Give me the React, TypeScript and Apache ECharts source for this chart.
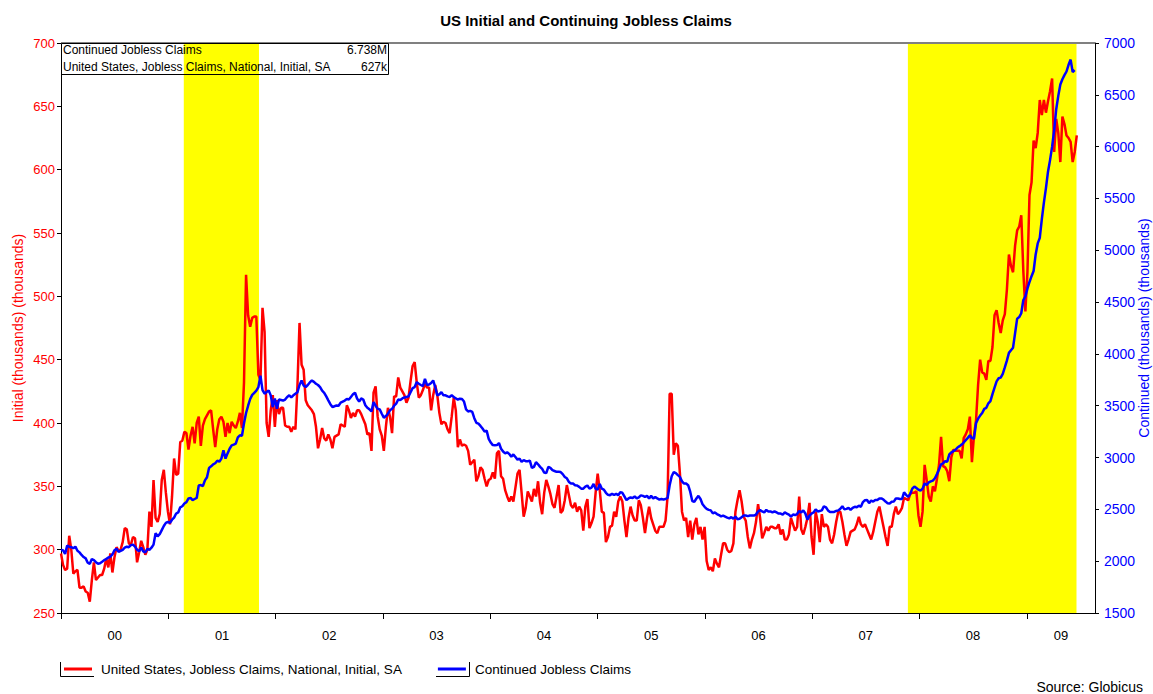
import React, { useEffect, useRef } from 'react';
import * as echarts from 'echarts';

// ---------- data ----------
const WEEK = 7 * 86400000;
const START = Date.UTC(2000, 0, 1); // first weekly observation (Saturday)
const AXIS_MAX = Date.UTC(2009, 7, 21);
const years = [2000, 2001, 2002, 2003, 2004, 2005, 2006, 2007, 2008, 2009];
const yearLabels = ['00', '01', '02', '03', '04', '05', '06', '07', '08', '09'];
const recessions = [
  ['2001-02-22', '2001-11-05'],
  ['2007-11-23', '2009-06-19'],
];
const initialName = 'United States, Jobless Claims, National, Initial, SA';
const continuedName = 'Continued Jobless Claims';

// Initial claims (thousands), weekly
const initial2000 = [297, 288, 284, 285, 311, 300, 281, 283, 284, 270, 270, 271, 267, 266, 259, 276, 290, 276, 278, 280, 280, 285, 293, 286, 297, 282, 294, 302, 299, 300, 306, 317, 316, 305, 304, 310, 309, 290, 298, 307, 302, 296, 300, 330, 318, 355, 325, 322, 328, 355, 363, 345, 330];
const initial2001 = [320, 342, 372, 359, 360, 385, 386, 393, 392, 379, 390, 397, 384, 400, 405, 382, 398, 403, 406, 409, 410, 395, 381, 395, 403, 405, 401, 389, 400, 392, 401, 398, 396, 401, 408, 396, 432, 517, 485, 476, 483, 484, 484, 438, 434, 491, 472, 400, 389, 410, 422, 397];
const initial2002 = [418, 407, 412, 412, 398, 397, 397, 393, 397, 395, 430, 479, 446, 442, 418, 414, 412, 410, 407, 397, 380, 387, 396, 388, 386, 391, 387, 380, 389, 390, 391, 399, 398, 397, 414, 410, 404, 408, 405, 410, 410, 407, 403, 399, 391, 392, 378, 424, 429, 405, 395, 390];
const initial2003 = [378, 397, 412, 405, 392, 421, 421, 436, 428, 425, 422, 416, 420, 433, 445, 448, 432, 420, 422, 426, 431, 428, 428, 410, 422, 430, 422, 408, 399, 401, 400, 395, 392, 405, 420, 410, 381, 387, 382, 383, 382, 378, 367, 369, 371, 354, 358, 365, 363, 356, 350, 355];
const initial2004 = [356, 361, 356, 376, 378, 358, 356, 347, 342, 338, 342, 338, 349, 360, 363, 345, 326, 333, 346, 342, 338, 348, 342, 354, 337, 328, 345, 355, 350, 344, 336, 333, 342, 351, 329, 331, 339, 351, 343, 335, 333, 337, 330, 334, 331, 315, 334, 340, 317, 321, 326, 345];
const initial2005 = [360, 347, 330, 329, 306, 310, 318, 319, 330, 326, 338, 342, 338, 323, 310, 325, 334, 327, 323, 323, 339, 335, 325, 313, 325, 334, 325, 320, 315, 313, 318, 318, 318, 323, 342, 423, 423, 375, 384, 382, 360, 330, 323, 325, 310, 323, 308, 320, 325, 312, 318, 308, 318];
const initial2006 = [291, 284, 286, 283, 293, 289, 286, 296, 305, 305, 300, 298, 299, 305, 330, 339, 347, 338, 326, 323, 310, 301, 308, 313, 322, 336, 325, 309, 313, 318, 315, 318, 318, 317, 317, 320, 312, 316, 308, 308, 312, 325, 320, 315, 318, 342, 316, 312, 318, 325, 337, 310];
const initial2007 = [296, 330, 322, 306, 328, 318, 320, 318, 308, 305, 312, 322, 330, 330, 322, 312, 303, 308, 314, 315, 316, 320, 326, 320, 318, 320, 316, 312, 308, 314, 322, 330, 334, 326, 318, 310, 303, 318, 318, 328, 334, 328, 330, 333, 341, 340, 339, 344, 345, 345, 346, 327];
const initial2008 = [318, 330, 367, 355, 342, 338, 350, 346, 356, 367, 389, 366, 365, 362, 354, 373, 379, 378, 378, 378, 372, 388, 391, 395, 405, 369, 390, 402, 430, 450, 440, 439, 434, 449, 449, 460, 485, 489, 479, 471, 481, 486, 505, 533, 524, 519, 540, 552, 555, 564, 520, 488];
const initial2009 = [519, 580, 590, 623, 617, 629, 655, 643, 655, 645, 654, 662, 672, 614, 640, 629, 606, 642, 636, 627, 625, 622, 606, 614, 627];

// Continued claims (thousands), weekly
const continued2000 = [2107, 2105, 2070, 2150, 2140, 2135, 2125, 2140, 2100, 2085, 2060, 2040, 2027, 1985, 1975, 2020, 2010, 1990, 1975, 1980, 1994, 2010, 2020, 2035, 2045, 2065, 2105, 2120, 2090, 2100, 2110, 2130, 2140, 2135, 2155, 2160, 2140, 2110, 2095, 2130, 2095, 2085, 2120, 2110, 2130, 2160, 2270, 2240, 2260, 2300, 2340, 2370, 2380];
const continued2001 = [2370, 2400, 2420, 2460, 2470, 2520, 2530, 2557, 2570, 2605, 2610, 2590, 2600, 2610, 2730, 2735, 2725, 2780, 2810, 2900, 2915, 2935, 2945, 2970, 2960, 2990, 3070, 2990, 3040, 3085, 3118, 3125, 3135, 3195, 3215, 3210, 3330, 3430, 3500, 3565, 3605, 3625, 3645, 3680, 3790, 3650, 3616, 3632, 3648, 3600, 3487, 3570];
const continued2002 = [3471, 3560, 3555, 3550, 3560, 3585, 3600, 3580, 3600, 3615, 3630, 3700, 3744, 3695, 3680, 3700, 3725, 3744, 3730, 3712, 3700, 3680, 3645, 3625, 3590, 3552, 3515, 3487, 3495, 3503, 3500, 3530, 3540, 3550, 3565, 3560, 3585, 3610, 3625, 3570, 3540, 3570, 3560, 3505, 3480, 3465, 3445, 3536, 3500, 3470, 3465, 3423];
const continued2003 = [3385, 3400, 3423, 3456, 3470, 3500, 3520, 3560, 3555, 3570, 3580, 3585, 3590, 3630, 3670, 3680, 3728, 3712, 3700, 3690, 3760, 3700, 3705, 3720, 3744, 3680, 3600, 3610, 3632, 3600, 3600, 3590, 3585, 3600, 3585, 3570, 3560, 3568, 3565, 3540, 3465, 3445, 3450, 3440, 3380, 3335, 3327, 3305, 3280, 3250, 3260, 3180];
const continued2004 = [3145, 3120, 3118, 3120, 3140, 3085, 3058, 3040, 3050, 3035, 3008, 3030, 3005, 2980, 2990, 2958, 2975, 2965, 2965, 2970, 2900, 2910, 2955, 2935, 2910, 2890, 2855, 2850, 2910, 2900, 2878, 2870, 2862, 2862, 2860, 2840, 2813, 2800, 2765, 2750, 2749, 2733, 2730, 2717, 2700, 2700, 2720, 2730, 2700, 2710, 2745, 2700];
const continued2005 = [2690, 2745, 2700, 2690, 2660, 2640, 2637, 2650, 2640, 2650, 2637, 2665, 2660, 2625, 2589, 2605, 2615, 2610, 2625, 2605, 2615, 2635, 2630, 2620, 2630, 2605, 2630, 2605, 2620, 2605, 2595, 2600, 2595, 2600, 2610, 2733, 2820, 2860, 2850, 2830, 2813, 2770, 2749, 2749, 2733, 2670, 2580, 2573, 2605, 2630, 2600, 2550, 2525];
const continued2006 = [2505, 2495, 2490, 2461, 2470, 2455, 2445, 2432, 2440, 2430, 2420, 2413, 2425, 2410, 2430, 2405, 2410, 2425, 2440, 2440, 2435, 2440, 2440, 2440, 2450, 2480, 2493, 2480, 2470, 2495, 2480, 2480, 2470, 2480, 2470, 2460, 2460, 2450, 2470, 2460, 2450, 2430, 2450, 2445, 2455, 2485, 2470, 2490, 2460, 2400, 2440, 2460];
const continued2007 = [2470, 2500, 2480, 2485, 2490, 2530, 2520, 2490, 2475, 2475, 2475, 2485, 2490, 2505, 2530, 2500, 2505, 2515, 2495, 2515, 2525, 2520, 2535, 2525, 2570, 2589, 2590, 2560, 2585, 2575, 2590, 2590, 2605, 2605, 2595, 2575, 2560, 2557, 2573, 2575, 2605, 2605, 2600, 2600, 2665, 2640, 2620, 2650, 2700, 2720, 2705, 2690];
const continued2008 = [2680, 2700, 2750, 2735, 2760, 2770, 2778, 2800, 2840, 2884, 2935, 2945, 2965, 2960, 3030, 3050, 3062, 3075, 3097, 3110, 3125, 3145, 3168, 3190, 3215, 3190, 3180, 3330, 3375, 3405, 3430, 3470, 3480, 3523, 3545, 3612, 3675, 3735, 3765, 3771, 3807, 3870, 3935, 4010, 4035, 4060, 4200, 4340, 4355, 4392, 4520, 4555];
const continued2009 = [4630, 4694, 4750, 4800, 4960, 5066, 5120, 5300, 5460, 5600, 5758, 5870, 6000, 6160, 6361, 6490, 6600, 6650, 6690, 6725, 6790, 6840, 6720, 6738];

const initial = [
  ...initial2000, ...initial2001, ...initial2002, ...initial2003, ...initial2004,
  ...initial2005, ...initial2006, ...initial2007, ...initial2008, ...initial2009,
];
const continued = [
  ...continued2000, ...continued2001, ...continued2002, ...continued2003, ...continued2004,
  ...continued2005, ...continued2006, ...continued2007, ...continued2008, ...continued2009,
];

const FONT = '"Liberation Sans", Arial, sans-serif';

export default function App() {
  const ref = useRef<HTMLDivElement>(null);

  useEffect(() => {
    if (!ref.current) return;
    const chart = echarts.init(ref.current, undefined, { renderer: 'svg' });

    const toPoints = (arr: number[]) => arr.map((v, i) => [START + i * WEEK, v]);
    const yearStarts = years.map((y) => Date.UTC(y, 0, 1));
    const yearMids = years.map((y) => {
      const a = Math.max(Date.UTC(y, 0, 1), START);
      const b = Math.min(Date.UTC(y + 1, 0, 1), AXIS_MAX);
      return (a + b) / 2;
    });
    const lastInitial = initial[initial.length - 1];
    const lastContinued = continued[continued.length - 1];

    const option: any = {
      animation: false,
      textStyle: { fontFamily: FONT },
      grid: { left: 61, right: 58, top: 43, bottom: 81, outerBoundsMode: 'none', containLabel: false },
      xAxis: {
        type: 'value',
        min: START,
        max: AXIS_MAX,
        axisLine: { show: true, lineStyle: { color: '#000', width: 1 } },
        axisTick: { show: true, customValues: yearStarts, length: 6, lineStyle: { color: '#000' } },
        axisLabel: {
          customValues: yearMids,
          color: '#000',
          fontSize: 13,
          fontFamily: FONT,
          margin: 16,
          formatter: (v: number) => {
            const idx = years.indexOf(new Date(v).getUTCFullYear());
            return idx >= 0 ? yearLabels[idx] : '';
          },
        },
        splitLine: { show: false },
      },
      yAxis: [
        {
          type: 'value',
          position: 'left',
          min: 250,
          max: 700,
          interval: 50,
          name: 'Initial (thousands) (thousands)',
          nameLocation: 'middle',
          nameRotate: 90,
          nameGap: 36,
          nameMoveOverlap: false,
          nameTextStyle: { color: '#ff0000', fontSize: 14, fontFamily: FONT },
          axisLine: { show: true, lineStyle: { color: '#000', width: 1 } },
          axisTick: { show: true, length: 4, lineStyle: { color: '#000' } },
          axisLabel: { color: '#ff0000', fontSize: 13, fontFamily: FONT, margin: 6, formatter: (v: number) => String(v) },
          splitLine: { show: false },
        },
        {
          type: 'value',
          position: 'right',
          min: 1500,
          max: 7000,
          interval: 500,
          name: 'Continued (thousands) (thousands)',
          nameLocation: 'middle',
          nameRotate: 90,
          nameGap: 42,
          nameMoveOverlap: false,
          nameTextStyle: { color: '#0000ff', fontSize: 14, fontFamily: FONT },
          axisLine: { show: true, lineStyle: { color: '#000', width: 1 } },
          axisTick: { show: true, length: 4, lineStyle: { color: '#000' } },
          axisLabel: { color: '#0000ff', fontSize: 14, fontFamily: FONT, margin: 9, formatter: (v: number) => String(v) },
          splitLine: { show: false },
        },
      ],
      legend: {
        data: [initialName, continuedName],
        left: 59,
        top: 657,
        icon: 'rect',
        itemWidth: 28,
        itemHeight: 3,
        itemGap: 36,
        textStyle: { color: '#000', fontSize: 13.5, fontFamily: FONT, padding: [0, 0, 0, 4] },
      },
      series: [
        {
          name: initialName,
          type: 'line',
          yAxisIndex: 0,
          data: toPoints(initial),
          showSymbol: false,
          symbol: 'none',
          color: '#ff0000',
          lineStyle: { color: '#ff0000', width: 2.5 },
          markArea: {
            silent: true,
            itemStyle: { color: '#ffff00', opacity: 1 },
            data: recessions.map(([a, b]) => [
              { xAxis: Date.parse(a + 'T00:00:00Z') },
              { xAxis: Date.parse(b + 'T00:00:00Z') },
            ]),
          },
        },
        {
          name: continuedName,
          type: 'line',
          yAxisIndex: 1,
          data: toPoints(continued),
          showSymbol: false,
          symbol: 'none',
          color: '#0000ff',
          lineStyle: { color: '#0000ff', width: 2.5 },
        },
      ],
      graphic: [
        {
          type: 'text',
          z: 100,
          x: 586,
          y: 20,
          style: {
            text: 'US Initial and Continuing Jobless Claims',
            font: `bold 15px ${FONT}`,
            fill: '#000',
            textAlign: 'center',
            textVerticalAlign: 'middle',
          },
        },
        {
          type: 'line',
          z: 100,
          shape: { x1: 61, y1: 43, x2: 1095, y2: 43 },
          style: { stroke: '#808080', lineWidth: 2 },
        },
        {
          type: 'rect',
          z: 100,
          shape: { x: 61.5, y: 43.5, width: 327, height: 31 },
          style: { fill: 'none', stroke: '#000', lineWidth: 1 },
        },
        {
          type: 'text',
          z: 101,
          x: 63,
          y: 50,
          style: { text: continuedName, font: `12px ${FONT}`, fill: '#000', textVerticalAlign: 'middle' },
        },
        {
          type: 'text',
          z: 101,
          x: 387,
          y: 50,
          style: {
            text: (lastContinued / 1000).toFixed(3) + 'M',
            font: `12px ${FONT}`,
            fill: '#000',
            textAlign: 'right',
            textVerticalAlign: 'middle',
          },
        },
        {
          type: 'text',
          z: 101,
          x: 63,
          y: 67,
          style: { text: initialName, font: `12px ${FONT}`, fill: '#000', textVerticalAlign: 'middle' },
        },
        {
          type: 'text',
          z: 101,
          x: 387,
          y: 67,
          style: {
            text: lastInitial + 'k',
            font: `12px ${FONT}`,
            fill: '#000',
            textAlign: 'right',
            textVerticalAlign: 'middle',
          },
        },
        {
          type: 'polyline',
          z: 100,
          shape: { points: [[60.5, 662], [60.5, 676.5], [94, 676.5]] },
          style: { stroke: '#000', lineWidth: 1, fill: 'none' },
        },
        {
          type: 'polyline',
          z: 100,
          shape: { points: [[436, 676.5], [469.5, 676.5], [469.5, 662]] },
          style: { stroke: '#000', lineWidth: 1, fill: 'none' },
        },
        {
          type: 'text',
          z: 100,
          x: 1143,
          y: 687,
          style: {
            text: 'Source: Globicus',
            font: `14px ${FONT}`,
            fill: '#000',
            textAlign: 'right',
            textVerticalAlign: 'middle',
          },
        },
      ],
    };

    chart.setOption(option);
    return () => chart.dispose();
  }, []);

  return (
    <div
      ref={ref}
      style={{ position: 'absolute', left: 0, top: 0, width: 1153, height: 694, background: '#fff' }}
    />
  );
}
